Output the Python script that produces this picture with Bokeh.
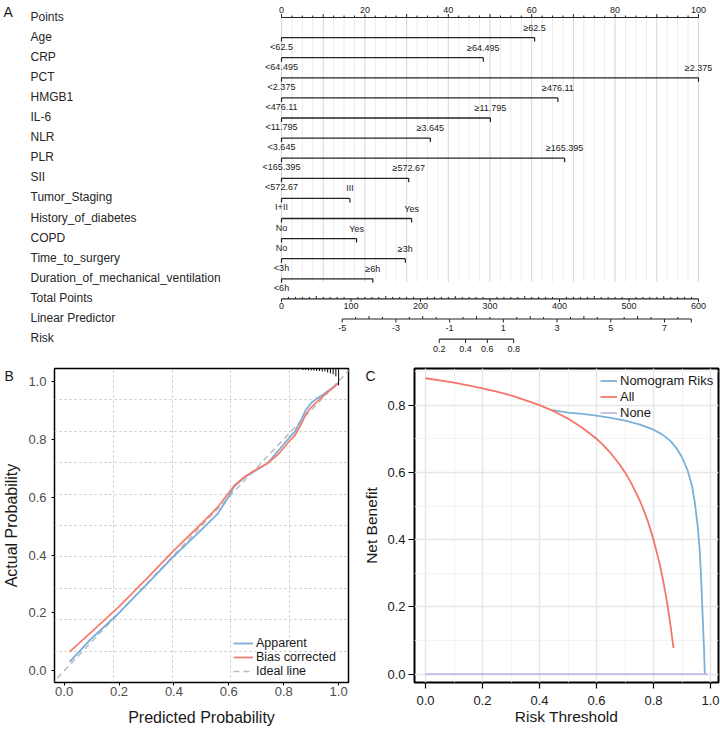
import math
from bokeh.plotting import figure
from bokeh.models import (Range1d, FixedTicker, PrintfTickFormatter, Title, Legend,
                          LegendItem, SingleIntervalTicker)
from bokeh.layouts import column, row
from bokeh.embed import file_html
from bokeh.resources import INLINE
from bokeh.core.properties import value

FONT = "Liberation Sans"
INK = "#1A1A1A"

# ------------------------------------------------------------------ data: nomogram (A)
row_names = ["Points", "Age", "CRP", "PCT", "HMGB1", "IL-6", "NLR", "PLR", "SII",
             "Tumor_Staging", "History_of_diabetes", "COPD", "Time_to_surgery",
             "Duration_of_mechanical_ventilation", "Total Points", "Linear Predictor", "Risk"]
low_labels = ["<62.5", "<64.495", "<2.375", "<476.11", "<11.795", "<3.645", "<165.395",
              "<572.67", "I+II", "No", "No", "<3h", "<6h"]
high_labels = ["≥62.5", "≥64.495", "≥2.375", "≥476.11", "≥11.795", "≥3.645", "≥165.395",
               "≥572.67", "III", "Yes", "Yes", "≥3h", "≥6h"]
high_points = [60.7, 48.4, 100.0, 66.3, 50.1, 35.7, 67.9, 30.5, 16.4, 31.2, 18.0, 29.7, 21.9]

points_ticks = [0, 2.5, 5, 7.5, 10, 12.5, 15, 17.5, 20, 22.5, 25, 27.5, 30, 32.5, 35, 37.5,
                40, 42.5, 45, 47.5, 50, 52.5, 55, 57.5, 60, 62.5, 65, 67.5, 70, 72.5, 75,
                77.5, 80, 82.5, 85, 87.5, 90, 92.5, 95, 97.5, 100]
points_labels = [0, 20, 40, 60, 80, 100]
total_ticks = list(range(0, 601, 10))
total_labels = [0, 100, 200, 300, 400, 500, 600]
lp_ticks = [-5, -4.5, -4, -3.5, -3, -2.5, -2, -1.5, -1, -0.5, 0, 0.5, 1, 1.5, 2, 2.5, 3,
            3.5, 4, 4.5, 5, 5.5, 6, 6.5, 7, 7.5, 8]
lp_labels = [-5, -3, -1, 1, 3, 5, 7]
risk_labels = [0.2, 0.4, 0.6, 0.8]
max_total = 600.0
lp_intercept = -7.26      # linear predictor at 0 total points
lp_per_point = 0.02588    # linear predictor per total point

# ------------------------------------------------------------------ data: calibration (B)
cal_x = [0.02, 0.1, 0.2, 0.3, 0.4, 0.5, 0.56, 0.6, 0.62, 0.66, 0.7, 0.74, 0.78, 0.82,
         0.84, 0.86, 0.88, 0.9, 0.92, 0.94, 0.97, 1.0]
apparent_y = [0.031, 0.112, 0.200, 0.298, 0.396, 0.487, 0.543, 0.603, 0.637, 0.670, 0.693,
              0.716, 0.760, 0.805, 0.825, 0.860, 0.900, 0.925, 0.940, 0.952, 0.972, 0.995]
bias_y = [0.066, 0.135, 0.222, 0.318, 0.416, 0.508, 0.566, 0.615, 0.640, 0.672, 0.695,
          0.716, 0.748, 0.793, 0.812, 0.845, 0.885, 0.910, 0.928, 0.945, 0.970, 0.993]
ideal_x = [-0.05, 1.05]
ideal_y = [-0.05, 1.05]
rug_x = [0.83, 0.85, 0.87, 0.88, 0.89, 0.90, 0.91, 0.92, 0.93, 0.94, 0.95, 0.96, 0.97,
         0.98, 0.99, 1.00]
rug_counts = [2, 2, 3, 3, 4, 4, 4, 5, 5, 6, 6, 8, 10, 12, 16, 34]
cal_ticks = [0.0, 0.2, 0.4, 0.6, 0.8, 1.0]

# ------------------------------------------------------------------ data: DCA (C)
all_x = [0.0, 0.05, 0.1, 0.15, 0.2, 0.25, 0.3, 0.35, 0.4, 0.45, 0.5, 0.55, 0.6, 0.62,
         0.65, 0.68, 0.7, 0.72, 0.75, 0.76, 0.78, 0.8, 0.82, 0.83, 0.84, 0.85, 0.86, 0.87]
all_y = [0.880, 0.874, 0.867, 0.859, 0.850, 0.840, 0.829, 0.815, 0.800, 0.782, 0.760,
         0.733, 0.700, 0.684, 0.657, 0.625, 0.600, 0.571, 0.520, 0.500, 0.455, 0.400,
         0.333, 0.294, 0.250, 0.200, 0.143, 0.077]
nomo_x = [0.44, 0.5, 0.55, 0.6, 0.65, 0.7, 0.75, 0.8, 0.83, 0.86, 0.88, 0.9, 0.92, 0.935,
          0.945, 0.955, 0.962, 0.967, 0.973, 0.977, 0.98]
nomo_y = [0.786, 0.778, 0.774, 0.769, 0.762, 0.754, 0.743, 0.727, 0.713, 0.693, 0.673,
          0.645, 0.605, 0.560, 0.510, 0.440, 0.370, 0.285, 0.160, 0.080, 0.0]
none_x = [0.0, 0.99]
none_y = [0.0, 0.0]

# ================================================================== Panel A
PX_PER_PT = 4.17
ROW_PX = 20.1
A_W, A_H = 720, 360
X0 = -281 / PX_PER_PT
Y_TOP = -17 / ROW_PX
px = 1.0 / ROW_PX

def total_to_x(t):
    return t / max_total * 100.0

def lp_to_x(lp):
    return total_to_x((lp - lp_intercept) / lp_per_point)

def risk_to_x(r):
    return lp_to_x(math.log(r / (1 - r)))

pA = figure(width=A_W, height=A_H, x_range=Range1d(X0, X0 + A_W / PX_PER_PT),
            y_range=Range1d(Y_TOP + A_H / ROW_PX, Y_TOP), min_border=0,
            x_axis_location=None, y_axis_location=None, output_backend="svg",
            toolbar_location=None, outline_line_color=None)
pA.grid.visible = False

LINE_C = "#222222"
small = "9px"

# vertical grid
gcol = ["#D6D6D6" if t % 10 == 0 else "#ECECEC" for t in points_ticks]
pA.segment(x0=points_ticks, y0=[0] * len(points_ticks), x1=points_ticks,
           y1=[13 + 3 * px] * len(points_ticks), line_color=gcol, line_width=1)

# Points axis
pA.segment(x0=[0], y0=[0], x1=[100], y1=[0], line_color=LINE_C, line_width=1.2)
pA.segment(x0=points_ticks, y0=[0] * len(points_ticks), x1=points_ticks,
           y1=[-(3.5 if t % 10 == 0 else 2.0) * px for t in points_ticks],
           line_color=LINE_C, line_width=1)
pA.text(x=points_labels, y=[0] * len(points_labels), text=[str(v) for v in points_labels],
        y_offset=-8, text_font=value(FONT), text_font_size=small, text_align="center",
        text_baseline="middle", text_color=INK)

# variable rows
rows_v = list(range(1, 14))
pA.segment(x0=[0] * 13, y0=rows_v, x1=high_points, y1=rows_v, line_color=LINE_C, line_width=1.3)
pA.segment(x0=[0] * 13, y0=rows_v, x1=[0] * 13, y1=[r + 4 * px for r in rows_v],
           line_color=LINE_C, line_width=1.2)
pA.segment(x0=high_points, y0=rows_v, x1=high_points, y1=[r + 4 * px for r in rows_v],
           line_color=LINE_C, line_width=1.2)
pA.text(x=[0] * 13, y=rows_v, text=low_labels, y_offset=9, text_font=value(FONT),
        text_font_size=small, text_align="center", text_baseline="middle", text_color=INK)
pA.text(x=high_points, y=rows_v, text=high_labels, y_offset=-10, text_font=value(FONT),
        text_font_size=small, text_align="center", text_baseline="middle", text_color=INK)

# Total points axis (row 14)
r = 14
tx = [total_to_x(t) for t in total_ticks]
pA.segment(x0=[0], y0=[r], x1=[100], y1=[r], line_color=LINE_C, line_width=1.2)
pA.segment(x0=tx, y0=[r] * len(tx), x1=tx,
           y1=[r + 3 * px if t in total_labels else r - (3 if t % 50 == 0 else 2) * px
               for t in total_ticks], line_color=LINE_C, line_width=1)
pA.text(x=[total_to_x(t) for t in total_labels], y=[r] * len(total_labels),
        text=[str(t) for t in total_labels], y_offset=7.5, text_font=value(FONT),
        text_font_size=small, text_align="center", text_baseline="middle", text_color=INK)

# Linear predictor axis (row 15)
r = 15
lx = [lp_to_x(v) for v in lp_ticks]
pA.segment(x0=[lx[0]], y0=[r], x1=[lx[-1]], y1=[r], line_color=LINE_C, line_width=1.2)
pA.segment(x0=lx, y0=[r] * len(lx), x1=lx,
           y1=[r + 3.5 * px if (v in lp_labels or v == lp_ticks[-1]) else r - (3 if v == int(v) else 2) * px
               for v in lp_ticks], line_color=LINE_C, line_width=1)
pA.text(x=[lp_to_x(v) for v in lp_labels], y=[r] * len(lp_labels),
        text=[str(v) for v in lp_labels], y_offset=9, text_font=value(FONT),
        text_font_size=small, text_align="center", text_baseline="middle", text_color=INK)

# Risk axis (row 16)
r = 16
rx = [risk_to_x(v) for v in risk_labels]
pA.segment(x0=[rx[0]], y0=[r], x1=[rx[-1]], y1=[r], line_color=LINE_C, line_width=1.2)
pA.segment(x0=rx, y0=[r] * len(rx), x1=rx, y1=[r + 4 * px] * len(rx),
           line_color=LINE_C, line_width=1)
pA.text(x=rx, y=[r] * len(rx), text=[str(v) for v in risk_labels], y_offset=10,
        text_font=value(FONT), text_font_size=small, text_align="center",
        text_baseline="middle", text_color=INK)

# row names
pA.text(x=[X0 + 30 / PX_PER_PT] * len(row_names), y=list(range(len(row_names))),
        text=row_names, y_offset=-1, text_font=value(FONT), text_font_size="12px",
        text_align="left", text_baseline="middle", text_color="#262626")
pA.text(x=[X0 + 3 / PX_PER_PT], y=[Y_TOP + 3 * px], text=["A"], text_font=value(FONT),
        text_font_size="14px", text_align="left", text_baseline="top", text_color=INK)

# ================================================================== Panel B
BLUE = "#7AADD8"
RED = "#F47D72"

pB = figure(width=356, height=368, x_range=Range1d(-0.035, 1.036),
            y_range=Range1d(-0.04, 1.044), min_border_left=53, min_border_right=8,
            min_border_top=8, min_border_bottom=46, output_backend="svg",
            toolbar_location=None, outline_line_color="black", outline_line_width=1.5)
pB.xgrid.ticker = FixedTicker(ticks=[0.1792, 0.3934, 0.6076, 0.8218])
pB.ygrid.ticker = FixedTicker(ticks=[0.0684, 0.1768, 0.2852, 0.3936, 0.502, 0.6104,
                                     0.7188, 0.8272, 0.9356])
pB.grid.grid_line_color = "#C4C4C4"
pB.grid.grid_line_dash = "2 3"
pB.grid.grid_line_width = 1
for ax in (pB.xaxis, pB.yaxis):
    ax.ticker = FixedTicker(ticks=cal_ticks)
    ax.formatter = PrintfTickFormatter(format="%.1f")
    ax.axis_line_color = None
    ax.major_tick_in = 0
    ax.major_tick_out = 3
    ax.minor_tick_line_color = None
    ax.major_label_text_font = FONT
    ax.major_label_text_font_size = "13px"
    ax.major_label_text_color = "#4D4D4D"
    ax.axis_label_text_font = FONT
    ax.axis_label_text_font_size = "16px"
    ax.axis_label_text_font_style = "normal"
    ax.axis_label_text_color = INK
pB.xaxis.axis_label = "Predicted Probability"
pB.yaxis.axis_label = "Actual Probability"
pB.xaxis.major_label_standoff = 1
pB.xaxis.axis_label_standoff = 10
pB.yaxis.major_label_standoff = 5
pB.yaxis.axis_label_standoff = 5

rI = pB.line(ideal_x, ideal_y, line_color="#BDBDBD", line_width=1.5, line_dash="6 4")
rA = pB.line(cal_x, apparent_y, line_color=BLUE, line_width=1.8)
rBc = pB.line(cal_x, bias_y, line_color=RED, line_width=1.8)
rug_scale = 0.0017
pB.segment(x0=rug_x, y0=[1.044] * len(rug_x), x1=rug_x,
           y1=[1.044 - c * rug_scale for c in rug_counts], line_color="black", line_width=1)
legB = Legend(items=[LegendItem(label="Apparent", renderers=[rA]),
                     LegendItem(label="Bias corrected", renderers=[rBc]),
                     LegendItem(label="Ideal line", renderers=[rI])],
              location=(179, 4), padding=0, spacing=-1, label_height=12, glyph_height=12,
              glyph_width=20, label_standoff=3, background_fill_alpha=0,
              border_line_color=None, label_text_font=FONT, label_text_font_size="12.5px",
              label_text_line_height=1.0, label_text_color=INK)
pB.add_layout(legB)
pB.add_layout(Title(text="B", align="left", offset=-50, standoff=-31, vertical_align="bottom",
                    text_font=FONT, text_font_size="14px", text_font_style="normal",
                    text_color=INK), "above")

# ================================================================== Panel C
CBLUE = "#7BB0D9"
CRED = "#F4766A"
CNONE = "#C6B8E0"

pC = figure(width=364, height=368, x_range=Range1d(-0.0386, 1.028),
            y_range=Range1d(-0.025, 0.909), min_border_left=58, min_border_right=2,
            min_border_top=5, min_border_bottom=46, output_backend="svg",
            toolbar_location=None, outline_line_color="black", outline_line_width=2)
for ax in (pC.xaxis, pC.yaxis):
    ax.ticker = SingleIntervalTicker(interval=0.2, num_minor_ticks=2)
    ax.formatter = PrintfTickFormatter(format="%.1f")
    ax.axis_line_color = None
    ax.major_tick_in = 0
    ax.major_tick_out = 6
    ax.major_tick_line_width = 1.2
    ax.minor_tick_line_color = None
    ax.major_label_text_font = FONT
    ax.major_label_text_font_size = "13px"
    ax.major_label_text_color = INK
    ax.axis_label_text_font = FONT
    ax.axis_label_text_font_size = "15.5px"
    ax.axis_label_text_font_style = "normal"
    ax.axis_label_text_color = INK
pC.xaxis.axis_label = "Risk Threshold"
pC.yaxis.axis_label = "Net Benefit"
pC.xaxis.major_label_standoff = 7
pC.xaxis.axis_label_standoff = 0
pC.yaxis.major_label_standoff = 3
pC.yaxis.axis_label_standoff = 4
pC.grid.grid_line_color = "#E6E6E6"
pC.grid.grid_line_width = 1.5
pC.grid.minor_grid_line_color = "#F0F0F0"
pC.grid.minor_grid_line_width = 0.8

rN = pC.line(nomo_x, nomo_y, line_color=CBLUE, line_width=1.8)
rAll = pC.line(all_x, all_y, line_color=CRED, line_width=1.8)
rNone = pC.line(none_x, none_y, line_color=CNONE, line_width=1.8)
legC = Legend(items=[LegendItem(label="Nomogram Riks", renderers=[rN]),
                     LegendItem(label="All", renderers=[rAll]),
                     LegendItem(label="None", renderers=[rNone])],
              location=(186, 262), padding=0, spacing=1, label_height=15, glyph_height=15,
              glyph_width=17, label_standoff=3, background_fill_alpha=0,
              border_line_color=None, label_text_font=FONT, label_text_font_size="13px",
              label_text_color=INK)
pC.add_layout(legC)
pC.add_layout(Title(text="C", align="left", offset=-49, standoff=-31, vertical_align="bottom",
                    text_font=FONT, text_font_size="14px", text_font_style="normal",
                    text_color=INK), "above")

layout = column(pA, row(pB, pC))
open("out.html", "w").write(file_html(layout, INLINE))
